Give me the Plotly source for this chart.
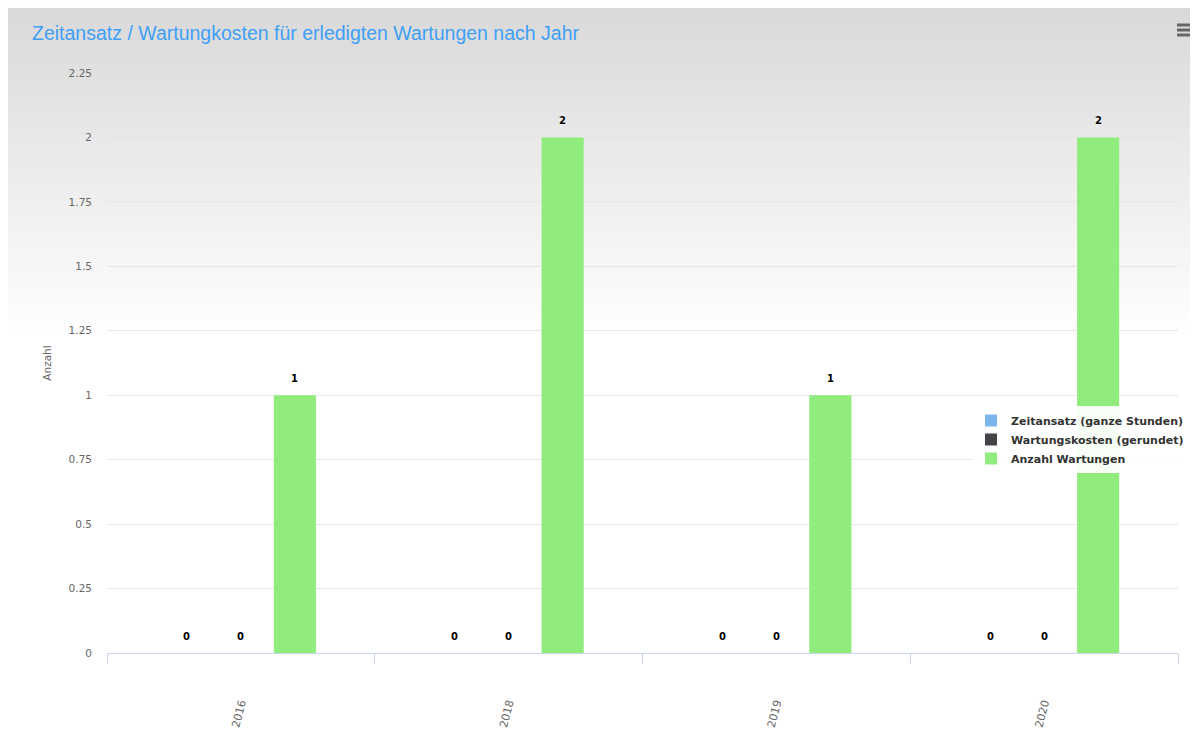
import plotly.graph_objects as go

years = ["2016", "2018", "2019", "2020"]
zeitansatz = [0, 0, 0, 0]
wartungskosten = [0, 0, 0, 0]
anzahl = [1, 2, 1, 2]
series_names = ["Zeitansatz (ganze Stunden)", "Wartungskosten (gerundet)", "Anzahl Wartungen"]
series_colors = ["#7cb5ec", "#434348", "#90ed7d"]

W, H = 1190, 727
L, R, T, B = 99, 20, 65, 82
pw, ph = W - L - R, H - T - B
BARGAP, BARGROUPGAP = 0.395, 0.22

def px_x(p):
    return (p - L) / pw

def px_y(p):
    return (H - B - p) / ph

fig = go.Figure()
all_vals = [zeitansatz, wartungskosten, anzahl]
for name, vals, col in zip(series_names, all_vals, series_colors):
    fig.add_trace(go.Bar(
        x=years, y=vals, name=name, marker=dict(color=col, line=dict(width=0)),
        hoverinfo="x+y+name",
    ))

# data labels (placed at the category index of each year, shifted to its bar slot)
cat_w = pw / len(years)
slot = cat_w * (1 - BARGAP) / len(all_vals)
annotations = []
for i, vals in enumerate(all_vals):
    off = (i - (len(all_vals) - 1) / 2) * slot
    for ci, v in enumerate(vals):
        annotations.append(dict(
            x=ci, y=v, xref="x", yref="y", text="<b>%d</b>" % v, showarrow=False,
            xshift=off, yshift=17, yanchor="middle",
            font=dict(family="DejaVu Sans", size=10, color="#000000",
                      shadow="0px 0px 2px #ffffff"),
        ))

# background gradient (chart background), drawn as bands
shapes = []
top_px, end_px = 0, 332
n = 60
c0 = 0xd9
for i in range(n):
    y0p = top_px + (end_px - top_px) * i / n
    y1p = top_px + (end_px - top_px) * (i + 1) / n
    v = int(round(c0 + (255 - c0) * (i + 0.5) / n))
    col = "rgb(%d,%d,%d)" % (v, v, v)
    shapes.append(dict(type="rect", xref="paper", yref="paper",
                       x0=px_x(0), x1=px_x(W + 2), y0=px_y(y1p + 0.6), y1=px_y(y0p),
                       fillcolor=col, line=dict(width=0), layer="below"))
# menu icon
for yy in [17, 22, 27]:
    shapes.append(dict(type="line", xref="paper", yref="paper",
                       x0=px_x(1169), x1=px_x(1188), y0=px_y(yy), y1=px_y(yy),
                       line=dict(color="#666666", width=3)))

fig.update_layout(
    width=W, height=H,
    margin=dict(l=L, r=R, t=T, b=B, autoexpand=False),
    paper_bgcolor="#ffffff", plot_bgcolor="rgba(0,0,0,0)",
    barmode="group", bargap=BARGAP, bargroupgap=BARGROUPGAP,
    shapes=shapes, annotations=annotations,
    title=dict(text="Zeitansatz / Wartungkosten für erledigten Wartungen nach Jahr",
               x=24 / W, xanchor="left", y=1 - 25 / H, yanchor="middle",
               font=dict(family="Liberation Sans, Arial", size=19.5, color="#3f9ff6")),
    legend=dict(x=px_x(963), y=px_y(398), xanchor="left", yanchor="top",
                bgcolor="rgba(255,255,255,0.92)", borderwidth=0,
                font=dict(family="DejaVu Sans", size=11, color="#333333", weight="bold"),
                itemwidth=30, tracegroupgap=0),
    showlegend=True,
    font=dict(family="DejaVu Sans", color="#666666"),
)
fig.update_xaxes(
    type="category", tickson="boundaries", ticks="outside", ticklen=10, tickcolor="#ccd6eb",
    showline=True, linecolor="#ccd6eb", linewidth=1, showgrid=False, zeroline=False,
    tickangle=-75, tickfont=dict(family="DejaVu Sans", size=11, color="#666666"),
    ticklabelstandoff=38, automargin=False, range=[-0.5, len(years) - 0.5],
)
fig.update_yaxes(
    range=[0, 2.25], dtick=0.25, tick0=0, showgrid=True, gridcolor="#e6e6e6", gridwidth=1,
    zeroline=False, showline=False, ticks="", ticklabelstandoff=14,
    tickfont=dict(family="DejaVu Sans", size=10.5, color="#666666"),
    title=dict(text="Anzahl", standoff=14, font=dict(family="DejaVu Sans", size=10.5, color="#666666")),
    automargin=False,
)

fig.write_html("out.html")
